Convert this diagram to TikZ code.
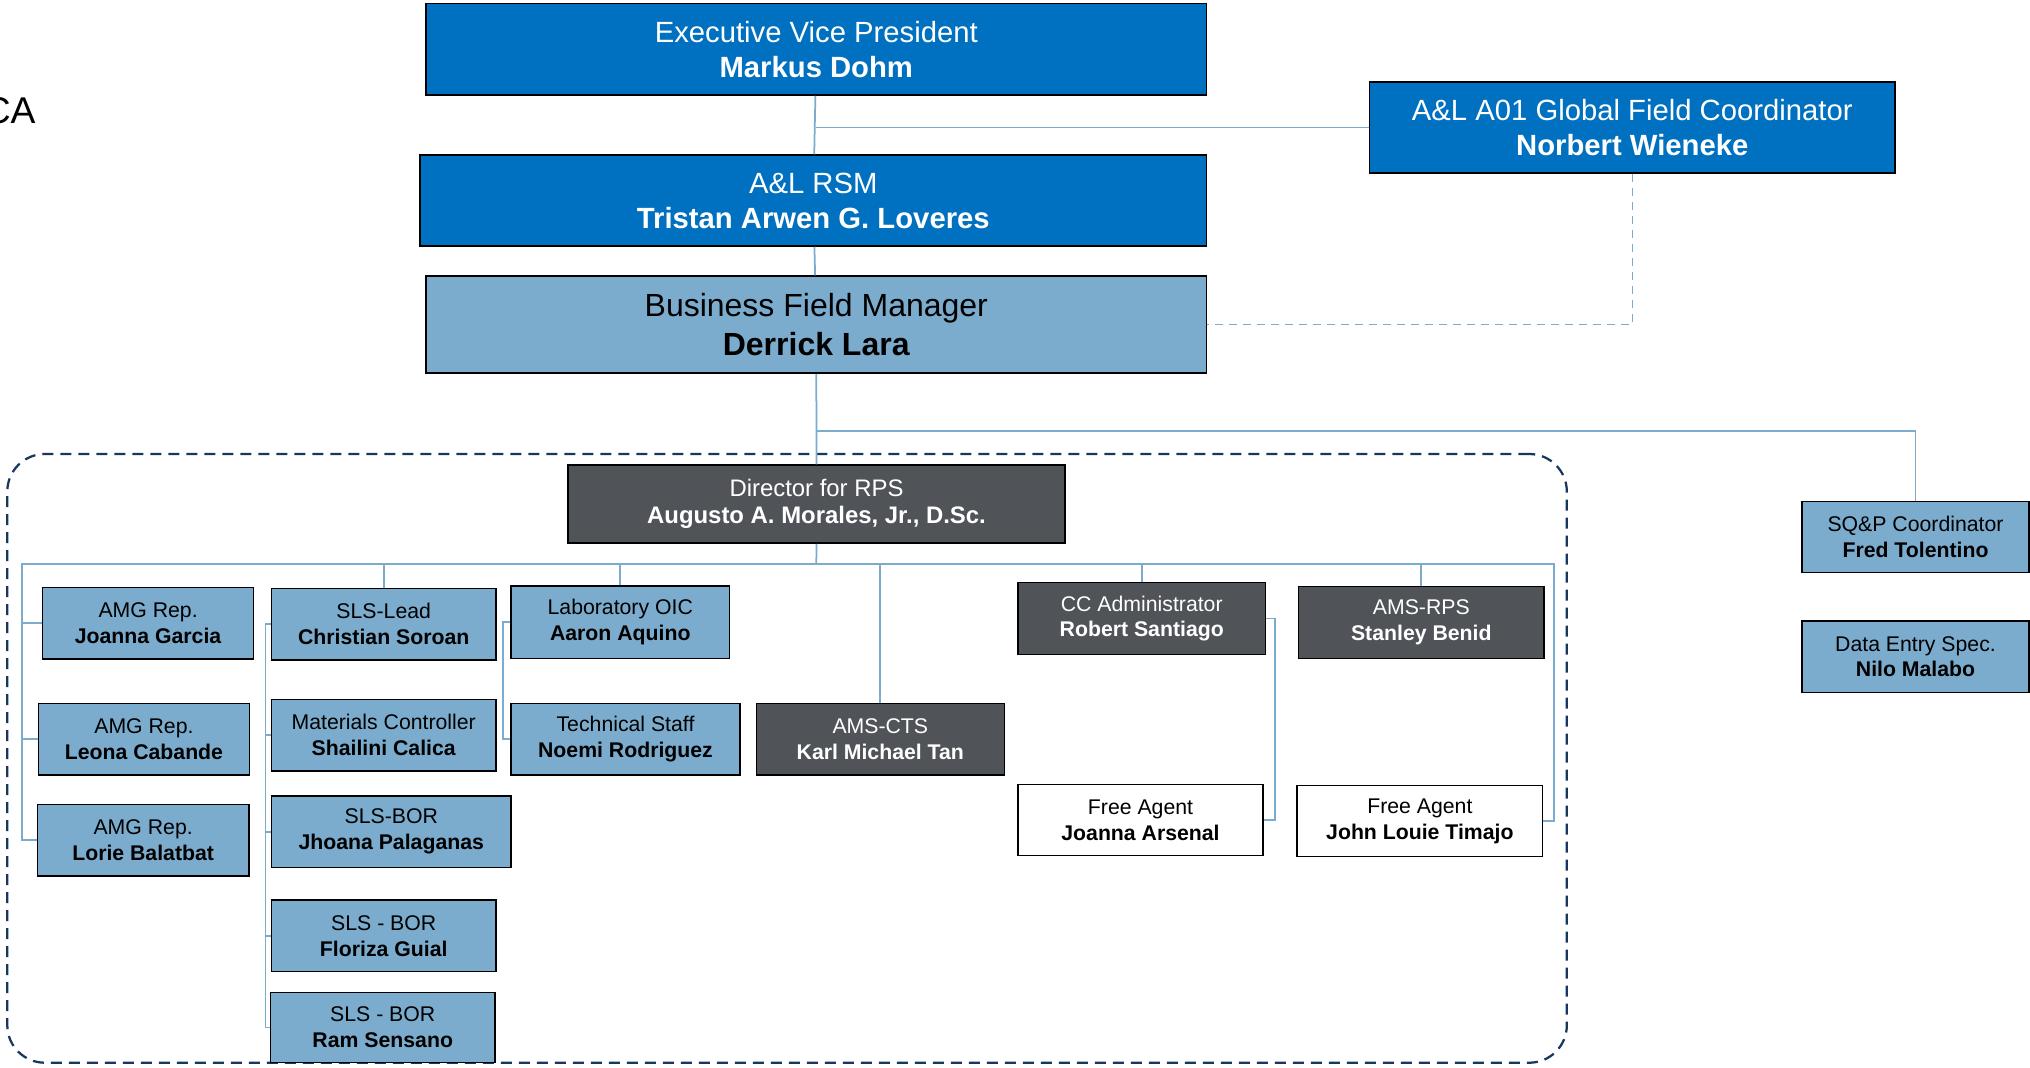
\documentclass[tikz,border=0pt]{standalone}
\usepackage{fontspec}
\setmainfont{Liberation Sans}
\definecolor{dblue}{RGB}{0,112,192}
\definecolor{lblue}{RGB}{123,172,205}
\definecolor{dgrey}{RGB}{80,84,89}
\definecolor{lineblue}{RGB}{123,172,205}
\definecolor{navy}{RGB}{23,55,94}
\newcommand\bx[7]{\node[#2, minimum width={(#5-#3)*0.4pt}, minimum height={(#6-#4)*0.4pt}] (#1) at ({(#3+#5)/2},{(#4+#6)/2}) {#7};}
\tikzset{
  box/.style={rectangle, draw=black, line width=0.6pt, inner sep=0pt, align=center},
  big/.style={box, fill=dblue, text=white, font=\fontsize{11.7pt}{14pt}\selectfont},
  bfmst/.style={box, fill=lblue, text=black, font=\fontsize{12.8pt}{15.5pt}\selectfont},
  dirst/.style={box, fill=dgrey, text=white, font=\fontsize{9.56pt}{10.8pt}\selectfont},
  lb/.style={box, fill=lblue, text=black, font=\fontsize{8.5pt}{10.36pt}\selectfont},
  dg/.style={box, fill=dgrey, text=white, font=\fontsize{8.5pt}{10.36pt}\selectfont},
  wb/.style={box, fill=white, text=black, font=\fontsize{8.5pt}{10.36pt}\selectfont},
  grp/.style={rectangle, draw=navy, line width=0.9pt, dash pattern=on 4.4pt off 2.8pt, rounded corners=15pt, inner sep=0pt},
  conn/.style={draw=lineblue, line width=0.7pt},
  dconn/.style={draw=lineblue, line width=0.55pt, dash pattern=on 3.2pt off 2.4pt},
}
\begin{document}
\begin{tikzpicture}[x=0.4pt,y=-0.4pt]
\useasboundingbox (0,0) rectangle (2030,1067);
% group container
\bx{grp}{grp}{7.3}{454}{1566.8}{1062.7}{}
\node[anchor=base east, inner sep=0pt, font=\fontsize{14.9pt}{18pt}\selectfont] (ca) at (36,123) {CA};
% top boxes
\bx{evp}{big}{426}{3.5}{1206.6}{95}{Executive Vice President\\\textbf{Markus Dohm}}
\bx{gfc}{big}{1369.5}{82}{1895}{173}{A\&L A01 Global Field Coordinator\\\textbf{Norbert Wieneke}}
\bx{rsm}{big}{420}{155}{1206.6}{246}{A\&L RSM\\\textbf{Tristan Arwen G. Loveres}}
\bx{bfm}{bfmst}{426}{276}{1206.6}{373}{Business Field Manager\\\textbf{Derrick Lara}}
\bx{dir}{dirst}{568}{465}{1065}{543}{Director for RPS\\\textbf{Augusto A. Morales, Jr., D.Sc.}}
% left column
\bx{amga}{lb}{42.7}{587.3}{253.5}{659}{AMG Rep.\\\textbf{Joanna Garcia}}
\bx{amgb}{lb}{38.3}{703.3}{249.6}{775}{AMG Rep.\\\textbf{Leona Cabande}}
\bx{amgc}{lb}{37.3}{804.3}{249}{876}{AMG Rep.\\\textbf{Lorie Balatbat}}
% SLS column
\bx{slsl}{lb}{271.5}{588.3}{496}{660}{SLS-Lead\\\textbf{Christian Soroan}}
\bx{matc}{lb}{271.5}{699.3}{496}{771}{Materials Controller\\\textbf{Shailini Calica}}
\bx{jhoa}{lb}{271.5}{796}{511}{867.3}{SLS-BOR\\\textbf{Jhoana Palaganas}}
\bx{flor}{lb}{271.5}{900}{496}{971.7}{SLS - BOR\\\textbf{Floriza Guial}}
\bx{ram}{lb}{270.5}{992.3}{495}{1062.7}{SLS - BOR\\\textbf{Ram Sensano}}
% lab column
\bx{lab}{lb}{511}{586}{729.5}{658.3}{Laboratory OIC\\\textbf{Aaron Aquino}}
\bx{tech}{lb}{511}{703.3}{740}{775}{Technical Staff\\\textbf{Noemi Rodriguez}}
% right side
\bx{cts}{dg}{756.3}{703.3}{1004.3}{775}{AMS-CTS\\\textbf{Karl Michael Tan}}
\bx{cca}{dg}{1018}{582.7}{1265.5}{654.3}{CC Administrator\\\textbf{Robert Santiago}}
\bx{rps}{dg}{1298.7}{586.7}{1543.9}{658.3}{AMS-RPS\\\textbf{Stanley Benid}}
\bx{fa1}{wb}{1018}{784.3}{1263}{855.7}{Free Agent\\\textbf{Joanna Arsenal}}
\bx{fa2}{wb}{1297}{785.7}{1542.7}{856.7}{Free Agent\\\textbf{John Louie Timajo}}
% far right
\bx{sqp}{lb}{1802}{501.7}{2029}{572.7}{SQ\&P Coordinator\\\textbf{Fred Tolentino}}
\bx{des}{lb}{1802}{621}{2029}{692.3}{Data Entry Spec.\\\textbf{Nilo Malabo}}
% helper coordinates
\coordinate (j1) at (816.3,431);
\coordinate (bus) at (816.3,564);
\coordinate (lsp) at (21.8,564);
\coordinate (rsp) at (1554,564);
\coordinate (ssp) at (265.6,0);
\coordinate (lsp2) at (502.7,0);
\coordinate (ccsp) at (1275.2,0);
% connectors top
\draw[conn] (evp) -- (rsm);
\draw[conn] (evp.south |- gfc.west) -- (gfc.west);
\draw[conn] (rsm) -- (bfm);
\draw[conn] (bfm.south) -- (dir.north);
\draw[conn] (j1) -| (sqp.north);
\draw[dconn] (gfc.south) |- (bfm.east);
% director bus
\draw[conn] (dir.south) -- (bus);
\draw[conn] (bus) -- (lsp) |- (amga.west);
\draw[conn] (lsp) |- (amgb.west);
\draw[conn] (lsp) |- (amgc.west);
\draw[conn] (bus) -| (slsl.north);
\draw[conn] (bus) -| (lab.north);
\draw[conn] (bus) -| (cts.north);
\draw[conn] (bus) -| (cca.north);
\draw[conn] (bus) -| (rps.north);
\draw[conn] (bus) -- (rsp) |- (fa2.east);
% SLS spine
\draw[conn] (slsl.west) -- (slsl.west -| ssp) |- (ram.west);
\draw[conn] (ssp |- matc.west) -- (matc.west);
\draw[conn] (ssp |- jhoa.west) -- (jhoa.west);
\draw[conn] (ssp |- flor.west) -- (flor.west);
% lab spine
\draw[conn] (lab.west) -- (lab.west -| lsp2) |- (tech.west);
% CC spine
\draw[conn] (cca.east) -- (cca.east -| ccsp) |- (fa1.east);
\end{tikzpicture}
\end{document}
